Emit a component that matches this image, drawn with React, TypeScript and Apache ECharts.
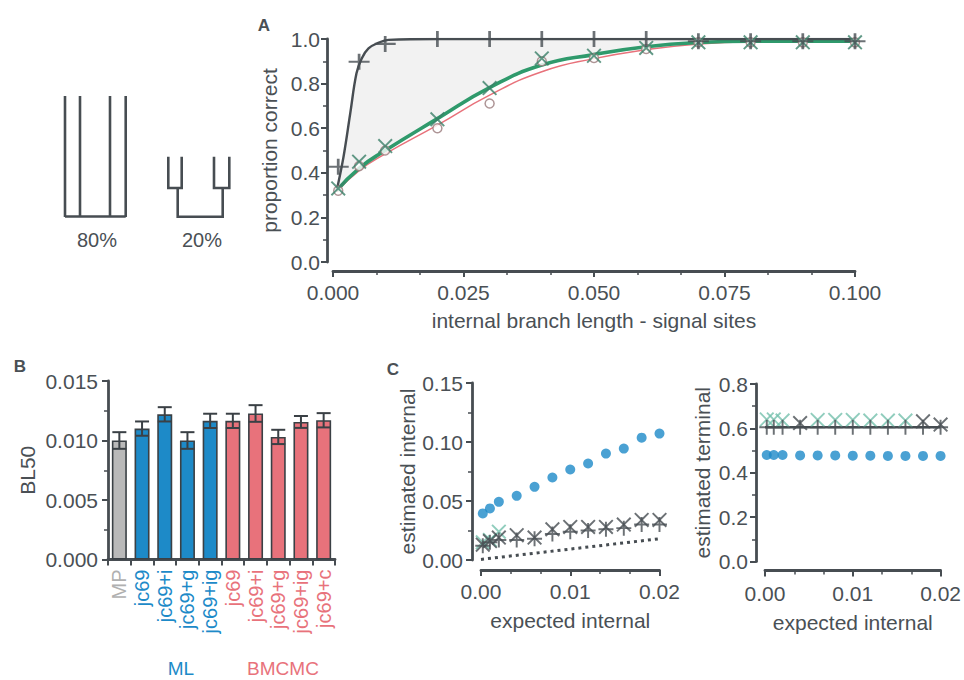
import React, { useEffect, useRef } from 'react';
import * as echarts from 'echarts';

const AX = '#474d52';
const TXT = '#4a5055';
const BLUE = '#1d8ac8';
const RED = '#e8727b';
const GRAYBAR = '#b9b9b9';
const GREEN = '#2f9a6c';
const TEAL = '#74c0ad';
const FONT = 'Liberation Sans, Arial, sans-serif';
const FS = 21;

// ---------- Panel A ----------
const aX = [0.001, 0.005, 0.01, 0.02, 0.03, 0.04, 0.05, 0.06, 0.07, 0.08, 0.09, 0.1];
const aMP = [0.427, 0.898, 0.978, 1.0, 1.0, 1.0, 1.0, 1.0, 0.99, 0.99, 0.99, 0.99];
const aML = [0.33, 0.45, 0.52, 0.64, 0.78, 0.913, 0.925, 0.96, 0.985, 0.985, 0.985, 0.985];
const aBM = [0.32, 0.43, 0.5, 0.6, 0.711, 0.9, 0.915, 0.955, 0.985, 0.985, 0.985, 0.985];
const aFitMPx = [0.0007, 0.002, 0.0033, 0.0045, 0.0055, 0.0068, 0.0087, 0.0106, 0.02, 0.1];
const aFitMPy = [0.32, 0.47, 0.666, 0.846, 0.913, 0.958, 0.983, 0.996, 1.0, 1.0];
const aFitMLx = [0.0007, 0.005, 0.01, 0.02, 0.03, 0.04, 0.05, 0.06, 0.07, 0.08, 0.1];
const aFitMLy = [0.32, 0.42, 0.5, 0.643, 0.782, 0.883, 0.93, 0.965, 0.984, 0.99, 0.99];
const aFitBMy = [0.315, 0.41, 0.485, 0.614, 0.748, 0.853, 0.912, 0.952, 0.978, 0.988, 0.99];

// ---------- Panel B ----------
const bLabels = ['MP', 'jc69', 'jc69+i', 'jc69+g', 'jc69+ig', 'jc69', 'jc69+i', 'jc69+g', 'jc69+ig', 'jc69+c'];
const bGroups = ['MP', 'ML', 'ML', 'ML', 'ML', 'BM', 'BM', 'BM', 'BM', 'BM'];
const bValues = [0.01, 0.011, 0.0122, 0.01, 0.01165, 0.01165, 0.01227, 0.0103, 0.01156, 0.0117];
const bErrors = [0.0007, 0.0006, 0.0006, 0.0007, 0.0006, 0.0006, 0.0007, 0.0006, 0.0005, 0.0006];

// ---------- Panel C ----------
const cX = [0.0002, 0.001, 0.002, 0.004, 0.006, 0.008, 0.01, 0.012, 0.014, 0.016, 0.018, 0.02];
const cIntBlue = [0.0395, 0.0437, 0.0493, 0.0544, 0.062, 0.0699, 0.0767, 0.0818, 0.0902, 0.0944, 0.1037, 0.1071];
const cIntPlus = [0.012, 0.015, 0.017, 0.017, 0.018, 0.022, 0.024, 0.025, 0.026, 0.027, 0.03, 0.03];
const cIntX = [0.013, 0.016, 0.019, 0.021, 0.019, 0.026, 0.028, 0.028, 0.028, 0.03, 0.034, 0.034];
const cIntTealX = [0.0002, 0.001, 0.002];
const cIntTealY = [0.015, 0.017, 0.024];
const cIntDiagX = [0, 0.02];
const cIntDiagY = [0.0005, 0.018];
const cTermBlue = [0.48, 0.48, 0.48, 0.478, 0.478, 0.478, 0.477, 0.477, 0.476, 0.476, 0.476, 0.476];
const cTermPlus = [0.605, 0.605, 0.605, 0.605, 0.605, 0.605, 0.605, 0.605, 0.605, 0.605, 0.605, 0.605];
const cTermTealX = [0.0002, 0.001, 0.002, 0.006, 0.008, 0.01, 0.012, 0.014, 0.016];
const cTermTealY = [0.64, 0.64, 0.635, 0.638, 0.638, 0.638, 0.635, 0.635, 0.635];
const cTermDarkX = [0.004, 0.018, 0.02];
const cTermDarkY = [0.624, 0.632, 0.617];
const cTermRefX = [0, 0.02];
const cTermRefY = [0.605, 0.605];

const PLUS = 'path://M-0.13,-1 L0.13,-1 L0.13,-0.13 L1,-0.13 L1,0.13 L0.13,0.13 L0.13,1 L-0.13,1 L-0.13,0.13 L-1,0.13 L-1,-0.13 L-0.13,-0.13 Z';
const CROSS = 'path://M-1,-0.82 L-0.82,-1 L0,-0.18 L0.82,-1 L1,-0.82 L0.18,0 L1,0.82 L0.82,1 L0,0.18 L-0.82,1 L-1,0.82 L-0.18,0 Z';

const zip = (xs: number[], ys: number[]) => xs.map((x, i) => [x, ys[i]]);

function valueAxis(extra: any) {
  return {
    type: 'value',
    axisLine: { show: true, onZero: false, lineStyle: { color: AX, width: 2.8 } },
    axisTick: { show: true, length: 6, lineStyle: { color: AX, width: 2 } },
    minorTick: { show: true, splitNumber: 2, length: 4, lineStyle: { color: AX, width: 1.5 } },
    splitLine: { show: false },
    axisLabel: { color: TXT, fontSize: FS, fontFamily: FONT },
    nameLocation: 'middle',
    nameTextStyle: { color: TXT, fontSize: FS, fontFamily: FONT },
    ...extra,
  };
}

const xMinor = { show: true, splitNumber: 3, length: 4, lineStyle: { color: AX, width: 1.5 } };

export default function App() {
  const ref = useRef<HTMLDivElement>(null);
  useEffect(() => {
    if (!ref.current) return;
    const chart = echarts.init(ref.current, undefined, { renderer: 'svg' });
    const groupColor = (g: string) => (g === 'MP' ? GRAYBAR : g === 'ML' ? BLUE : RED);
    const labelColor = (g: string) => (g === 'MP' ? '#b0b0b0' : g === 'ML' ? BLUE : RED);

    const lineEl = (x1: number, y1: number, x2: number, y2: number) => ({
      type: 'line', shape: { x1, y1, x2, y2 }, style: { stroke: AX, lineWidth: 2.6 }, silent: true,
    });
    const polyEl = (pts: number[][]) => ({
      type: 'polyline', shape: { points: pts }, style: { stroke: AX, lineWidth: 2.6, fill: null }, silent: true,
    });
    const textEl = (text: string, x: number, y: number, color: string, size: number, weight = 'normal') => ({
      type: 'text', x, y, silent: true,
      style: { text, fill: color, fontSize: size, fontWeight: weight, fontFamily: FONT, align: 'center', verticalAlign: 'middle' },
    });
    const lab = (margin: number, digits: number) => ({
      color: TXT, fontSize: FS, fontFamily: FONT, margin, formatter: (v: number) => v.toFixed(digits),
    });

    const option: any = {
      animation: false,
      backgroundColor: '#ffffff',
      textStyle: { fontFamily: FONT },
      grid: [
        { left: 333, top: 39, width: 522, height: 223 },
        { left: 108, top: 381, width: 227, height: 178.5 },
        { left: 481, top: 383, width: 178.5, height: 177 },
        { left: 765, top: 384, width: 178.5, height: 177.5 },
      ],
      xAxis: [
        valueAxis({
          gridIndex: 0, min: 0, max: 0.1, interval: 0.025, offset: 9, minorTick: xMinor,
          axisLabel: lab(11, 3), name: 'internal branch length - signal sites', nameGap: 39,
        }),
        {
          type: 'category', gridIndex: 1,
          data: bLabels.map((l, i) => ({ value: String(i), textStyle: { color: labelColor(bGroups[i]) } })),
          axisLine: { show: true, lineStyle: { color: AX, width: 2.8 } },
          axisTick: { show: true, alignWithLabel: false, length: 6, lineStyle: { color: AX, width: 2 } },
          axisLabel: {
            rotate: 90, interval: 0, margin: 10, fontSize: 20, fontFamily: FONT,
            formatter: (_v: string, idx: number) => bLabels[idx],
          },
          splitLine: { show: false },
        },
        valueAxis({
          gridIndex: 2, min: 0, max: 0.02, interval: 0.01, offset: 10, minorTick: xMinor,
          axisLabel: lab(11, 2), name: 'expected internal', nameGap: 40,
        }),
        valueAxis({
          gridIndex: 3, min: 0, max: 0.02, interval: 0.01, offset: 9, minorTick: xMinor,
          axisLabel: lab(12, 2), name: 'expected internal', nameGap: 41,
        }),
      ],
      yAxis: [
        valueAxis({
          gridIndex: 0, min: 0, max: 1, interval: 0.2, offset: 6,
          axisLabel: lab(7, 1), name: 'proportion correct', nameGap: 44, nameRotate: 90,
        }),
        valueAxis({
          gridIndex: 1, min: 0, max: 0.015, interval: 0.005,
          axisLabel: lab(10, 3), name: 'BL50', nameGap: 70, nameRotate: 90,
        }),
        valueAxis({
          gridIndex: 2, min: 0, max: 0.15, interval: 0.05, offset: 9,
          axisLabel: lab(9, 2), name: 'estimated internal', nameGap: 54, nameRotate: 90,
        }),
        valueAxis({
          gridIndex: 3, min: 0, max: 0.8, interval: 0.2, offset: 9,
          axisLabel: lab(8, 1), name: 'estimated terminal', nameGap: 43, nameRotate: 90,
        }),
      ],
      series: [
        // Panel A band
        {
          type: 'custom', xAxisIndex: 0, yAxisIndex: 0, silent: true, z: 1,
          data: [[0, 0]],
          renderItem: (_p: any, api: any) => {
            const top = aFitMPx.map((x, i) => api.coord([x, aFitMPy[i]]));
            const bot = aFitMLx.map((x, i) => api.coord([x, aFitMLy[i]])).reverse();
            return { type: 'polygon', shape: { points: top.concat(bot) }, style: { fill: '#f2f2f2' } };
          },
        },
        {
          type: 'line', xAxisIndex: 0, yAxisIndex: 0, data: zip(aFitMLx, aFitBMy), smooth: 0.5,
          symbol: 'none', lineStyle: { color: RED, width: 1.5 }, z: 3,
        },
        {
          type: 'line', xAxisIndex: 0, yAxisIndex: 0, data: zip(aFitMLx, aFitMLy), smooth: 0.5,
          symbol: 'none', lineStyle: { color: GREEN, width: 3.6 }, z: 4,
        },
        {
          type: 'line', xAxisIndex: 0, yAxisIndex: 0, data: zip(aFitMPx, aFitMPy), smooth: 0.4,
          symbol: 'none', lineStyle: { color: AX, width: 2.4 }, z: 4,
        },
        {
          type: 'scatter', xAxisIndex: 0, yAxisIndex: 0, data: zip(aX, aBM), symbol: 'circle', symbolSize: 9,
          itemStyle: { color: '#ffffff', borderColor: '#9a7a7c', borderWidth: 1.5 }, z: 5,
        },
        {
          type: 'scatter', xAxisIndex: 0, yAxisIndex: 0, data: zip(aX, aML), symbol: CROSS, symbolSize: 15,
          itemStyle: { color: '#3a8068' }, z: 6,
        },
        {
          type: 'scatter', xAxisIndex: 0, yAxisIndex: 0, data: zip(aX, aMP), symbol: PLUS, symbolSize: [21, 16],
          itemStyle: { color: AX }, z: 7,
        },
        // Panel B
        {
          type: 'bar', xAxisIndex: 1, yAxisIndex: 1, barWidth: 15,
          data: bValues.map((v, i) => ({ value: v, itemStyle: { color: groupColor(bGroups[i]) } })),
          itemStyle: { borderColor: '#3a4045', borderWidth: 1.6 },
        },
        {
          type: 'custom', xAxisIndex: 1, yAxisIndex: 1, z: 5,
          data: bValues.map((v, i) => [i, v, bErrors[i]]),
          encode: { x: 0, y: 1 },
          renderItem: (_p: any, api: any) => {
            const i = api.value(0), v = api.value(1), e = api.value(2);
            const t = api.coord([i, v + e]);
            const b = api.coord([i, v - e]);
            const hw = 7;
            const st = { stroke: '#3a4045', lineWidth: 2 };
            return {
              type: 'group',
              children: [
                { type: 'line', shape: { x1: t[0], y1: t[1], x2: b[0], y2: b[1] }, style: st },
                { type: 'line', shape: { x1: t[0] - hw, y1: t[1], x2: t[0] + hw, y2: t[1] }, style: st },
                { type: 'line', shape: { x1: b[0] - hw, y1: b[1], x2: b[0] + hw, y2: b[1] }, style: st },
              ],
            };
          },
        },
        // Panel C left
        {
          type: 'line', xAxisIndex: 2, yAxisIndex: 2, data: zip(cIntDiagX, cIntDiagY), symbol: 'none',
          lineStyle: { color: AX, width: 3, type: [3, 4] },
        },
        {
          type: 'scatter', xAxisIndex: 2, yAxisIndex: 2, data: zip(cX, cIntBlue), symbol: 'circle', symbolSize: 10,
          itemStyle: { color: BLUE },
        },
        {
          type: 'scatter', xAxisIndex: 2, yAxisIndex: 2, data: zip(cIntTealX, cIntTealY), symbol: CROSS, symbolSize: 15,
          itemStyle: { color: TEAL }, z: 3,
        },
        {
          type: 'scatter', xAxisIndex: 2, yAxisIndex: 2, data: zip(cX, cIntX), symbol: CROSS, symbolSize: 15,
          itemStyle: { color: AX }, z: 4,
        },
        {
          type: 'scatter', xAxisIndex: 2, yAxisIndex: 2, data: zip(cX, cIntPlus), symbol: PLUS, symbolSize: 15,
          itemStyle: { color: AX }, z: 4,
        },
        // Panel C right
        {
          type: 'line', xAxisIndex: 3, yAxisIndex: 3, data: zip(cTermRefX, cTermRefY), symbol: 'none',
          lineStyle: { color: AX, width: 2.5 },
        },
        {
          type: 'scatter', xAxisIndex: 3, yAxisIndex: 3, data: zip(cX, cTermBlue), symbol: 'circle', symbolSize: 10,
          itemStyle: { color: BLUE },
        },
        {
          type: 'scatter', xAxisIndex: 3, yAxisIndex: 3, data: zip(cTermTealX, cTermTealY), symbol: CROSS, symbolSize: 15,
          itemStyle: { color: TEAL }, z: 3,
        },
        {
          type: 'scatter', xAxisIndex: 3, yAxisIndex: 3, data: zip(cTermDarkX, cTermDarkY), symbol: CROSS, symbolSize: 15,
          itemStyle: { color: AX }, z: 4,
        },
        {
          type: 'scatter', xAxisIndex: 3, yAxisIndex: 3, data: zip(cX, cTermPlus), symbol: PLUS, symbolSize: 15,
          itemStyle: { color: AX }, z: 4,
        },
      ],
      graphic: [
        // tree 80%
        lineEl(65, 96, 65, 217),
        lineEl(80, 96, 80, 217),
        lineEl(110, 96, 110, 217),
        lineEl(125.7, 96, 125.7, 217),
        lineEl(65, 216.5, 125.7, 216.5),
        // tree 20%
        polyEl([[168.3, 156.7], [168.3, 188], [181.7, 188], [181.7, 156.7]]),
        polyEl([[214, 156.7], [214, 188], [229.3, 188], [229.3, 156.7]]),
        polyEl([[177.7, 188], [177.7, 216.7], [222.7, 216.7], [222.7, 188]]),
        textEl('80%', 97, 240, TXT, 20),
        textEl('20%', 202, 240, TXT, 20),
        textEl('A', 264, 25, TXT, 17, 'bold'),
        textEl('B', 20, 366, TXT, 17, 'bold'),
        textEl('C', 393, 369, TXT, 17, 'bold'),
        textEl('ML', 181, 668, BLUE, 19),
        textEl('BMCMC', 283, 668, RED, 19),
      ],
    };
    chart.setOption(option);
    return () => chart.dispose();
  }, []);
  return <div ref={ref} style={{ position: 'fixed', left: 0, top: 0, width: 964, height: 680 }} />;
}
